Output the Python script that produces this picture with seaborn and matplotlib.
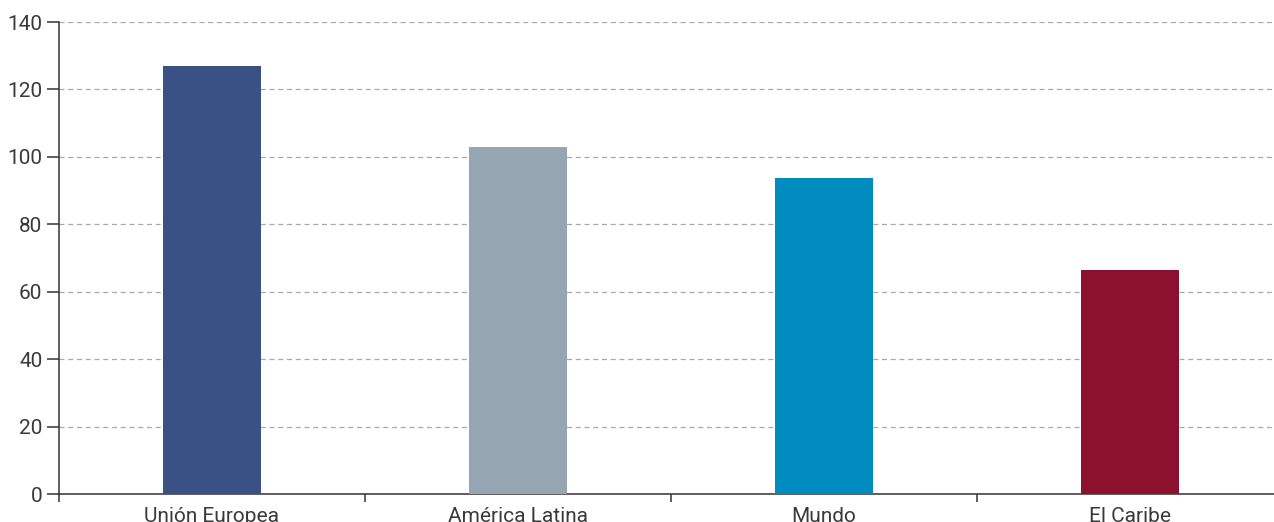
import matplotlib
matplotlib.use("Agg")
import matplotlib.pyplot as plt
import seaborn as sns
import pandas as pd
from matplotlib import font_manager

# Data
categories = ["Unión Europea", "América Latina", "Mundo", "El Caribe"]
values = [127.0, 102.9, 93.7, 66.4]
colors = ["#3A5186", "#95A5B1", "#008CBE", "#8B112F"]

df = pd.DataFrame({"region": categories, "valor": values})

sns.set_theme(style="white")
names = {f.name for f in font_manager.fontManager.ttflist}
family = [f for f in ["Liberation Sans Narrow", "Roboto", "DejaVu Sans"] if f in names]
plt.rcParams["font.family"] = family

fig = plt.figure(figsize=(12.74, 5.22), dpi=100)
# axes extend a bit past the right edge, as in the reference
ax = fig.add_axes([59 / 1274, 28 / 522, 1224 / 1274, 472 / 522])

sns.barplot(data=df, x="region", y="valor", hue="region", palette=colors,
            legend=False, width=0.317, saturation=1, linewidth=0,
            ax=ax, zorder=3)

ax.set_ylim(0, 140)
ax.set_xlim(-0.5, 3.5)
ax.set_yticks(range(0, 141, 20))
ax.set_xlabel("")
ax.set_ylabel("")

ax.yaxis.grid(True, color="#a8a8a8", linestyle=(0, (4, 3)), linewidth=0.9, zorder=0)
ax.xaxis.grid(False)
for side in ["top", "right"]:
    ax.spines[side].set_visible(False)
for side in ["left", "bottom"]:
    ax.spines[side].set_color("#333333")
    ax.spines[side].set_linewidth(1.1)

ax.tick_params(axis="y", length=9, width=1.1, color="#333333", direction="out",
               left=True, labelsize=15, labelcolor="#3a3a3a", pad=3)
ax.tick_params(axis="x", which="major", length=0, labelsize=15,
               labelcolor="#3a3a3a", pad=9)
ax.set_xticks([-0.5, 0.5, 1.5, 2.5], minor=True)
ax.tick_params(axis="x", which="minor", length=6, width=1.1, color="#333333",
               direction="out", bottom=True)

plt.savefig("out.png", dpi=100)
plt.close()
